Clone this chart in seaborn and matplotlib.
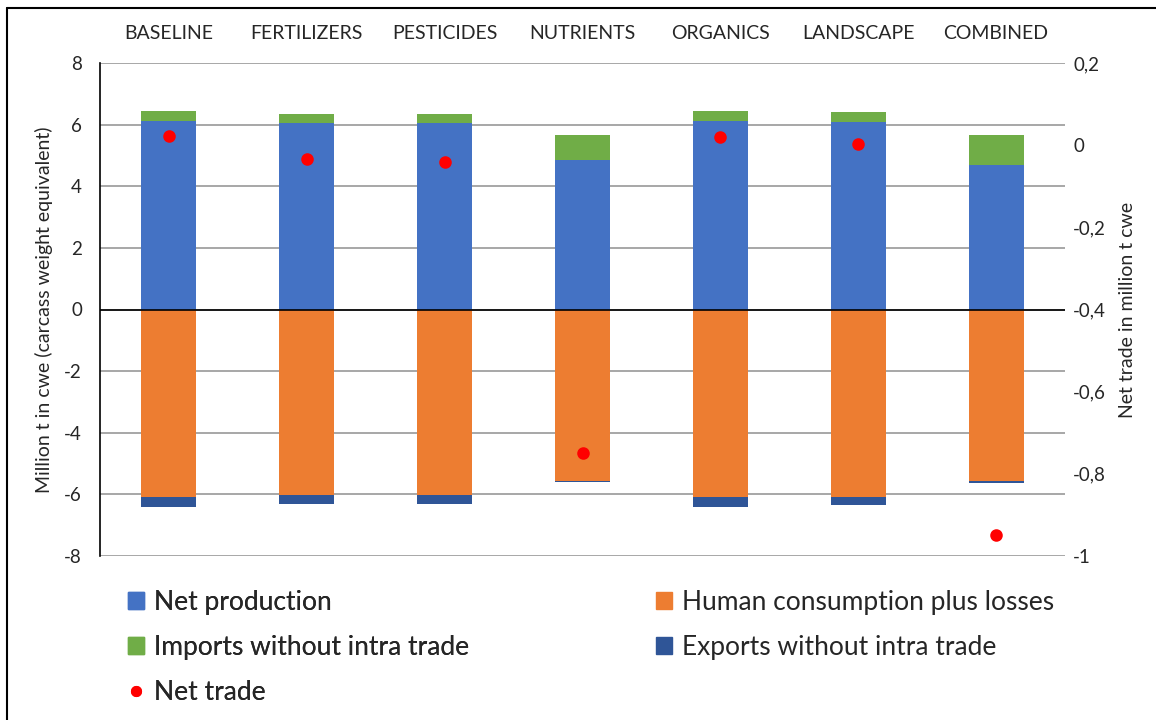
import numpy as np
import pandas as pd
import matplotlib
matplotlib.use("Agg")
import matplotlib.pyplot as plt
from matplotlib.lines import Line2D
from matplotlib.patches import Patch
from matplotlib.ticker import FuncFormatter, MultipleLocator
import seaborn as sns

# data (million t cwe)
categories = ["BASELINE", "FERTILIZERS", "PESTICIDES", "NUTRIENTS",
              "ORGANICS", "LANDSCAPE", "COMBINED"]
net_production = [6.13, 6.04, 6.04, 4.84, 6.13, 6.10, 4.68]
imports = [0.30, 0.30, 0.30, 0.82, 0.30, 0.30, 0.98]
consumption = [6.07, 6.03, 6.03, 5.56, 6.07, 6.07, 5.58]
exports = [0.33, 0.28, 0.28, 0.05, 0.33, 0.29, 0.05]
net_trade = [0.022, -0.033, -0.041, -0.749, 0.019, 0.004, -0.95]

C_PROD = "#4472C4"
C_CONS = "#ED7D31"
C_IMP = "#70AD47"
C_EXP = "#2F5597"
C_NET = "#FF0000"

sns.set_style("white")
plt.rcParams["font.family"] = ["Lato", "DejaVu Sans"]
plt.rcParams["axes.unicode_minus"] = False

df = pd.DataFrame({
    "category": categories,
    "prod": net_production,
    "imp": imports,
    "cons": consumption,
    "exp": exports,
    "net": net_trade,
})
df["top"] = df["prod"] + df["imp"]
df["neg_cons"] = -df["cons"]
df["neg_total"] = -(df["cons"] + df["exp"])

fig = plt.figure(figsize=(11.56, 7.2), dpi=100)
ax = fig.add_axes([100 / 1156, 1 - 556 / 720, 965 / 1156, 493 / 720])

bw = 0.4
kw = dict(data=df, x="category", order=categories, width=bw,
          saturation=1, errorbar=None, linewidth=0, ax=ax)
sns.barplot(y="top", color=C_IMP, **kw)
sns.barplot(y="prod", color=C_PROD, **kw)
sns.barplot(y="neg_total", color=C_EXP, **kw)
sns.barplot(y="neg_cons", color=C_CONS, **kw)

ax.set_ylim(-8, 8)
ax.set_xlim(-0.5, len(categories) - 0.5)
ax.yaxis.set_major_locator(MultipleLocator(2))
ax.yaxis.grid(True, color="#8f8f8f", linewidth=1.1)
ax.set_axisbelow(True)
ax.axhline(0, color="black", linewidth=1.2, zorder=3)
for s in ["top", "right", "bottom"]:
    ax.spines[s].set_visible(False)
ax.spines["left"].set_color("black")
ax.spines["left"].set_linewidth(1.2)

ax.set_xlabel("")
ax.set_ylabel("Million t in cwe (carcass weight equivalent)", fontsize=14,
              labelpad=8)
ax.tick_params(axis="y", length=0, pad=13, labelsize=13.5)

# net trade on secondary axis
ax2 = ax.twinx()
sns.pointplot(data=df, x="category", y="net", order=categories, color=C_NET,
              linestyle="none", markers="o", markersize=7, errorbar=None,
              ax=ax2)
ax2.set_ylim(-1, 0.2)
ax2.yaxis.set_major_locator(MultipleLocator(0.2))
ax2.yaxis.set_major_formatter(FuncFormatter(
    lambda v, p: str(int(round(v))) if abs(v - round(v)) < 1e-9
    else f"{v:.1f}".replace(".", ",")))
ax2.set_ylabel("Net trade in million t cwe", fontsize=14, labelpad=9)
ax2.tick_params(axis="y", length=0, pad=6, labelsize=13.5)
ax2.set_xlabel("")
for s in ax2.spines.values():
    s.set_visible(False)

# category labels on top
ax.xaxis.tick_top()
ax.set_xticks(range(len(categories)))
ax.set_xticklabels(categories, fontsize=14)
ax.tick_params(axis="x", length=0, pad=15)
ax.set_xlim(-0.5, len(categories) - 0.5)

# legend in two blocks
h_left = [Patch(color=C_PROD, label="Net production"),
          Patch(color=C_IMP, label="Imports without intra trade"),
          Line2D([], [], marker="o", linestyle="none", color=C_NET,
                 markersize=7, label="Net trade")]
h_right = [Patch(color=C_CONS, label="Human consumption plus losses"),
           Patch(color=C_EXP, label="Exports without intra trade")]
lkw = dict(loc="upper left", frameon=False, fontsize=19, handlelength=0.6,
           handleheight=0.6, handletextpad=0.4, labelspacing=0.75,
           borderpad=0, borderaxespad=0)
leg1 = fig.legend(handles=h_left, bbox_to_anchor=(128 / 1156, 1 - 590 / 720), **lkw)
fig.add_artist(leg1)
fig.legend(handles=h_right, bbox_to_anchor=(656 / 1156, 1 - 590 / 720), **lkw)

# chart frame
fig.add_artist(Line2D([7 / 1156, 7 / 1156], [0, 1 - 8 / 720], color="black",
                      linewidth=1.5, transform=fig.transFigure))
fig.add_artist(Line2D([7 / 1156, 1], [1 - 8 / 720, 1 - 8 / 720], color="black",
                      linewidth=1.5, transform=fig.transFigure))

fig.savefig("out.png", dpi=100)
